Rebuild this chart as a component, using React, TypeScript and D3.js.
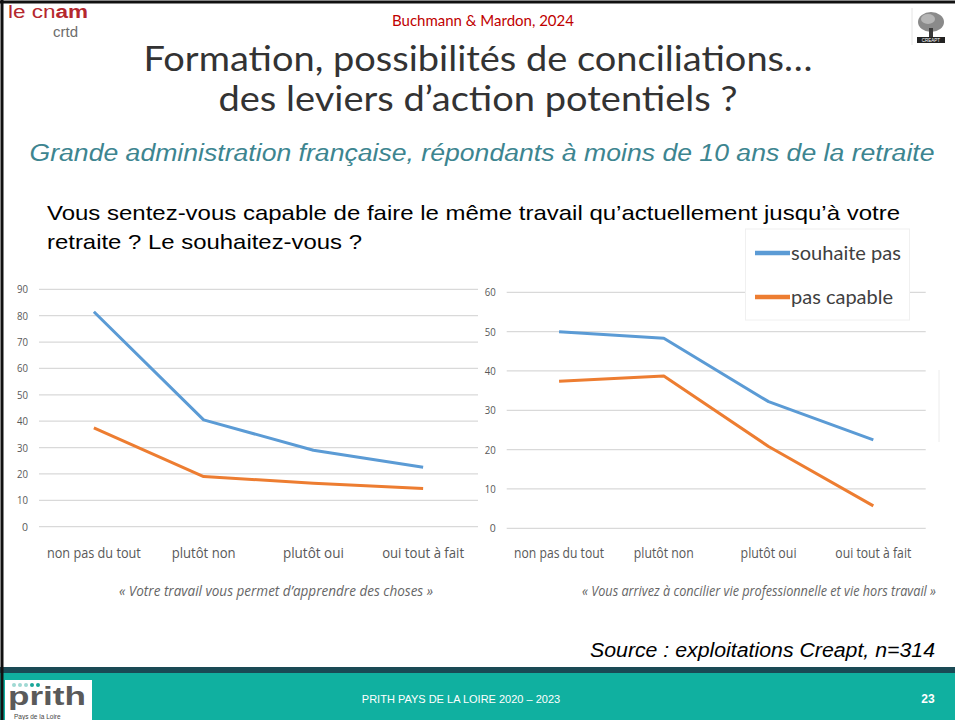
import React from "react";
import * as d3 from "d3";

// categories shared by the two charts
const categories = ["non pas du tout", "plutôt non", "plutôt oui", "oui tout à fait"];

// « Votre travail vous permet d'apprendre des choses »
const apprendreSouhaitePas = [81.5, 40.5, 29, 22.5];
const apprendrePasCapable = [37.5, 19, 16.5, 14.5];
const apprendreTicks = [0, 10, 20, 30, 40, 50, 60, 70, 80, 90];

// « Vous arrivez à concilier vie professionnelle et vie hors travail »
const concilierSouhaitePas = [50, 48.3, 32.2, 22.5];
const concilierPasCapable = [37.4, 38.7, 20.8, 5.7];
const concilierTicks = [0, 10, 20, 30, 40, 50, 60];

const seriesNames = ["souhaite pas", "pas capable"];
const colors = ["#5b9bd5", "#ed7d31"];

const narrow = "'Open Sans', 'Liberation Sans', sans-serif";

function LineChart({ x0, x1, yBottom, yTop, maxTick, ticks, series, caption, captionX, captionWidth, labelWidths }) {
  const x = d3.scaleBand().domain(categories).range([x0, x1]);
  const y = d3.scaleLinear().domain([0, maxTick]).range([yBottom, yTop]);
  const line = d3
    .line<number>()
    .x((d, i) => x(categories[i])! + x.bandwidth() / 2)
    .y((d) => y(d));

  return (
    <g>
      {ticks.map((t) => (
        <g key={t}>
          <line x1={x0} x2={x1} y1={y(t)} y2={y(t)} stroke="#d9d9d9" strokeWidth={1.3} />
          <text
            x={x0 - 11}
            y={y(t) + 4}
            textAnchor="end"
            fontSize={11}
            fill="#595959"
            fontFamily={narrow}
            textLength={t < 10 ? 6 : 11}
            lengthAdjust="spacingAndGlyphs"
          >
            {t}
          </text>
        </g>
      ))}
      {series.map((s, i) => (
        <path key={i} d={line(s)!} fill="none" stroke={colors[i]} strokeWidth={3} strokeLinejoin="round" />
      ))}
      {categories.map((c, i) => (
        <text
          key={c}
          x={x(c)! + x.bandwidth() / 2}
          y={558}
          textAnchor="middle"
          fontSize={14}
          fill="#595959"
          fontFamily={narrow}
          textLength={labelWidths[i]}
          lengthAdjust="spacingAndGlyphs"
        >
          {c}
        </text>
      ))}
      <text
        x={captionX}
        y={596}
        textAnchor="middle"
        fontSize={14}
        fontStyle="italic"
        fill="#666666"
        fontFamily={narrow}
        textLength={captionWidth}
        lengthAdjust="spacingAndGlyphs"
      >
        {caption}
      </text>
    </g>
  );
}

export default function App() {
  return (
    <svg
      width={955}
      height={720}
      style={{ position: "absolute", left: 0, top: 0, background: "#fff" }}
    >
      {/* slide border */}
      <rect x={0} y={0} width={955} height={720} fill="#fff" />
      <line x1={0} x2={955} y1={2} y2={2} stroke="#111" strokeWidth={3} />
      <line x1={2} x2={2} y1={0} y2={720} stroke="#111" strokeWidth={3} />

      {/* cnam logo */}
      <text x={8} y={18} fontSize={18} fill="#b5282e" fontFamily="'Liberation Sans', sans-serif" textLength={80} lengthAdjust="spacingAndGlyphs">
        le cn<tspan fontWeight="bold">am</tspan>
      </text>
      <text x={53} y={37} fontSize={15} fill="#6d6d6d" fontFamily="'Liberation Sans', sans-serif">
        crtd
      </text>

      {/* creapt logo */}
      <line x1={912} x2={912} y1={8} y2={45} stroke="#e4e4e4" />
      <ellipse cx={931} cy={22} rx={13} ry={10} fill="#8a8a8a" />
      <ellipse cx={928} cy={19} rx={7} ry={5} fill="#b5b5b5" />
      <rect x={929} y={28} width={4} height={9} fill="#3a3a3a" />
      <rect x={917} y={37} width={28} height={6} fill="#222" />
      <text x={931} y={42} fontSize={4.5} fill="#fff" textAnchor="middle" fontFamily="sans-serif">CREAPT</text>

      <text x={483} y={26} textAnchor="middle" fontSize={15} fill="#c00000" fontFamily="'Lato', sans-serif">
        Buchmann &amp; Mardon, 2024
      </text>

      {/* title */}
      <text x={478} y={71} textAnchor="middle" fontSize={35} fill="#333" fontFamily="'Lato', sans-serif" textLength={669} lengthAdjust="spacingAndGlyphs">
        Formation, possibilités de conciliations…
      </text>
      <text x={478} y={111} textAnchor="middle" fontSize={35} fill="#333" fontFamily="'Lato', sans-serif" textLength={519} lengthAdjust="spacingAndGlyphs">
        des leviers d’action potentiels ?
      </text>

      <text x={482} y={161} textAnchor="middle" fontSize={23} fontStyle="italic" fill="#3d8590" fontFamily="'Liberation Sans', Arial, sans-serif" textLength={905} lengthAdjust="spacingAndGlyphs">
        Grande administration française, répondants à moins de 10 ans de la retraite
      </text>

      <text x={47} y={220} fontSize={21} fill="#000" fontFamily="'Liberation Sans', Arial, sans-serif" textLength={853} lengthAdjust="spacingAndGlyphs">
        Vous sentez-vous capable de faire le même travail qu’actuellement jusqu’à votre
      </text>
      <text x={47} y={249} fontSize={21} fill="#000" fontFamily="'Liberation Sans', Arial, sans-serif" textLength={315} lengthAdjust="spacingAndGlyphs">
        retraite ? Le souhaitez-vous ?
      </text>

      <LineChart
        x0={39}
        x1={478}
        yBottom={526.7}
        yTop={289.3}
        maxTick={90}
        ticks={apprendreTicks}
        series={[apprendreSouhaitePas, apprendrePasCapable]}
        caption="« Votre travail vous permet d’apprendre des choses »"
        captionX={276}
        captionWidth={314}
        labelWidths={[94, 64, 61, 82]}
      />
      <LineChart
        x0={506.7}
        x1={925.7}
        yBottom={528.3}
        yTop={292.3}
        maxTick={60}
        ticks={concilierTicks}
        series={[concilierSouhaitePas, concilierPasCapable]}
        caption="« Vous arrivez à concilier vie professionnelle et vie hors travail »"
        captionX={759}
        captionWidth={354}
        labelWidths={[90, 60, 56, 76]}
      />

      {/* legend */}
      <rect x={745.5} y={229} width={164} height={91} fill="#fff" stroke="#f0f0f0" />
      {seriesNames.map((n, i) => (
        <g key={n}>
          <line x1={755} x2={790} y1={253 + i * 44} y2={253 + i * 44} stroke={colors[i]} strokeWidth={4.5} />
          <text x={791} y={260 + i * 44} fontSize={20} fill="#404040" fontFamily="'Lato', sans-serif" textLength={i === 0 ? 110 : 102} lengthAdjust="spacingAndGlyphs">
            {n}
          </text>
        </g>
      ))}
      <line x1={939} x2={939} y1={370} y2={442} stroke="#ececec" />

      <text x={935} y={657} textAnchor="end" fontSize={20} fontStyle="italic" fill="#000" fontFamily="'Liberation Sans', Arial, sans-serif" textLength={345} lengthAdjust="spacingAndGlyphs">
        Source : exploitations Creapt, n=314
      </text>

      {/* footer */}
      <rect x={0} y={667} width={955} height={6} fill="#1a4a55" />
      <rect x={0} y={673} width={955} height={47} fill="#10b0a0" />
      <line x1={2} x2={2} y1={667} y2={720} stroke="#111" strokeWidth={3} />
      <rect x={5} y={680} width={87} height={40} fill="#fff" />
      {[0, 1, 2, 3, 4].map((i) => (
        <circle key={i} cx={14 + i * 6} cy={685} r={2} fill={i < 3 ? "#9fd9d3" : "#1aa79a"} />
      ))}
      <text x={8} y={705} fontSize={26} fontWeight="bold" fill="#5a5a5a" fontFamily="'Liberation Sans', Arial, sans-serif" textLength={78} lengthAdjust="spacingAndGlyphs">
        prith
      </text>
      <text x={14} y={718.5} fontSize={6.5} fill="#444" fontFamily="'Liberation Sans', Arial, sans-serif">
        Pays de la Loire
      </text>
      <text x={461} y={703} textAnchor="middle" fontSize={11} fill="#fff" fontFamily="'Liberation Sans', Arial, sans-serif">
        PRITH PAYS DE LA LOIRE 2020 – 2023
      </text>
      <text x={928} y={703} textAnchor="middle" fontSize={12} fontWeight="bold" fill="#fff" fontFamily="'Liberation Sans', Arial, sans-serif">
        23
      </text>
    </svg>
  );
}
